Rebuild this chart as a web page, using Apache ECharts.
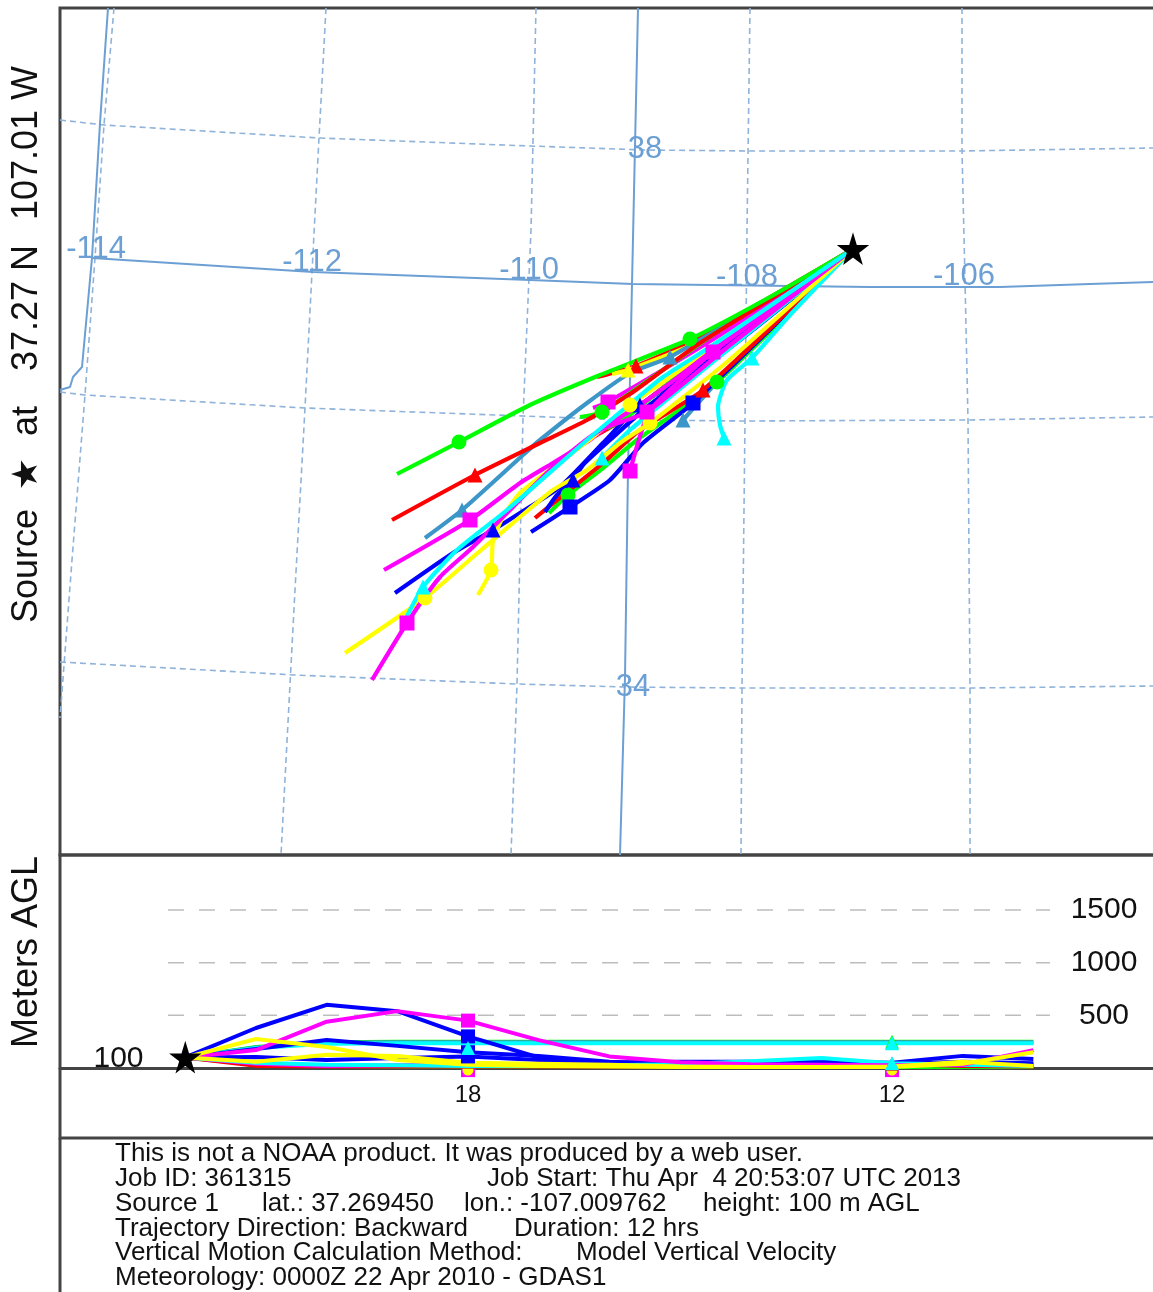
<!DOCTYPE html>
<html><head><meta charset="utf-8">
<style>html,body{margin:0;padding:0;background:#fff}#c{width:1153px;height:1292px}</style>
<script src="https://cdn.jsdelivr.net/npm/echarts@6/dist/echarts.min.js"></script>
</head><body><div id="c"></div>
<script>
// ---------- map reference lines (values read in plot units of the map panel)
const borderWest = [[108,8],[100,123],[92,258],[82,367],[73,377],[70,387],[60,390]];
const borderNorth = [[92,258],[313,272],[530,280],[633,284],[870,287],[1000,287],[1090,284],[1153,282]];
const borderCenter = [[638,8],[632,284],[628,470],[625,677],[620,855]];
const lon114 = [[114,8],[104,125],[95,258],[85,395],[72,560],[60,718]];
const lon112 = [[326,8],[319,138],[312,272],[305,408],[295,590],[281,855]];
const lon110 = [[536,8],[531,230],[523,418],[517,684],[511,855]];
const lon108 = [[750,8],[747,230],[745,421],[742,688],[741,855]];
const lon106 = [[962,8],[962,151],[965,280],[968,420],[970,688],[970,855]];
const lat38 = [[60,120],[104,125],[319,138],[530,146],[645,150],[750,151],[962,151],[1153,148]];
const lat36 = [[60,392],[85,395],[305,408],[523,416],[628,420],[745,421],[968,420],[1153,417]];
const lat34 = [[60,662],[295,675],[517,684],[625,687],[741,688],[970,688],[1153,686]];
const mapLabels = [[96,249,'-114'],[312,262,'-112'],[529,270,'-110'],[747,277,'-108'],[964,276,'-106'],[645,149,'38'],[633,687,'34']];

// ---------- trajectories on the map
const source = [853,249];
const redShort = [source,[700,337],[636,366],[597,377]];
const yellowShort = [source,[700,341],[628,370],[612,374]];
const greenA = [source,[770,297],[690,339],[600,375],[530,405],[459,442],[397,474]];
const steelA = [source,[670,357],[630,373],[587,403],[540,440],[523,455],[462,510],[425,538]];
const redA = [source,[700,343],[633,392],[587,420],[540,443],[475,475],[392,520]];
const steelB = [source,[760,335],[683,420]];
const redB = [source,[703,390],[640,430],[603,463],[557,500],[535,518]];
const redC = [source,[703,357],[617,423],[593,437]];
const greenC = [source,[710,350],[627,417],[607,428]];
const greenD = [source,[720,330],[602,412],[580,417]];
const magentaD = [source,[720,335],[608,402],[593,408]];
const blueA = [source,[727,350],[640,405],[603,443],[560,487],[520,513],[493,530],[453,553],[395,593]];
const magentaA = [source,[730,345],[647,412],[607,427],[590,440],[553,463],[520,483],[470,520],[384,570]];
const greenB = [source,[717,382],[637,440],[603,468],[568,495],[549,513]];
const blueB = [source,[693,403],[643,443],[610,480],[570,507],[531,532]];
const blueC = [source,[647,407],[610,440],[583,465],[573,480],[557,495],[545,512]];
const magentaB = [source,[713,352],[650,410],[638,443],[630,471]];
const cyanA = [source,[790,315],[752,358],[727,380],[718,407],[720,425],[724,438]];
const cyanB = [source,[710,347],[663,377],[630,404],[587,440],[507,510],[457,550],[423,587],[405,620]];
const cyanC = [source,[752,330],[630,430],[602,458]];
const magentaC = [source,[720,345],[650,398],[590,437],[553,467],[513,507],[473,547],[440,577],[407,623],[372,680]];
const yellowA = [source,[727,362],[650,423],[620,443],[587,470],[553,490],[520,517],[473,557],[425,598],[345,653]];
const yellowB = [source,[720,343],[630,405],[593,437],[563,460],[520,493],[503,517],[493,540],[491,570],[478,595]];

// ---------- height panel
const hours = [22,21,20,19,18,17,16,15,14,13,12,11,10];
const hGreen = [100,200,245,250,250,250,250,250,250,250,250,250,250];
const hSteel = [100,195,240,245,245,245,245,245,245,245,245,245,245];
const hCyan = [100,190,230,235,235,235,235,235,235,235,235,235,235];
const hBlueA = [100,380,600,540,300,100,40,35,40,40,35,30,30];
const hMagenta = [100,170,440,540,450,265,110,55,35,30,25,30,170];
const hBlueB = [100,180,265,210,150,115,60,40,50,60,50,115,85];
const hBlueC = [100,105,75,95,110,75,50,60,60,45,40,60,45];
const hYellowA = [100,275,200,75,30,20,15,10,10,10,10,40,150];
const hYellowB = [100,60,125,115,50,40,30,15,10,10,15,60,20];
const hMagentaB = [100,40,20,25,30,35,25,20,15,15,20,40,25];
const hRed = [100,20,15,15,15,15,15,15,25,35,40,20,15];
const hGreenB = [100,30,20,15,15,15,20,15,10,10,10,10,10];
const hCyanB = [100,50,30,25,20,20,25,35,65,95,45,30,20];
const gridLevels = [500,1000,1500];
const gridSpan = [22.245,9.765];
const groundMarkHours = [18,12];
const groundMarkHeight = -20;
const cyanMark18 = [[18,190]];

const GREEN='#00ff00',RED='#ff0000',BLUE='#0000ff',MAG='#ff00ff',CY='#00ffff',YEL='#ffff00',STEEL='#3c96c8';
const MAPC='#6c9fd3',GRIDC='#8fb3da';
const STAR='path://M50 0 L61 35 L98 35 L68 57 L79 91 L50 70 L21 91 L32 57 L2 35 L39 35Z';

// line, colour, marker shape, marker indices
const trajectories = [
 [steelB,STEEL,'triangle',[2]],[redShort,RED,'triangle',[2]],[yellowShort,YEL,'triangle',[2]],
 [steelA,STEEL,'triangle',[1,6]],[magentaD,MAG,'rect',[2]],[greenD,GREEN,'circle',[2]],[redA,RED,'triangle',[5]],
 [greenB,GREEN,'circle',[1,4]],[blueB,BLUE,'rect',[1,4]],[redB,RED,'triangle',[1]],[blueC,BLUE,'triangle',[4]],
 [greenA,GREEN,'circle',[2,5]],[blueA,BLUE,'triangle',[2,6]],[cyanA,CY,'triangle',[2,6]],
 [redC,RED,'triangle',[]],[greenC,GREEN,'circle',[]],
 [cyanC,CY,'triangle',[3]],[magentaB,MAG,'rect',[1,4]],[yellowA,YEL,'circle',[2,8]],[magentaA,MAG,'rect',[2,7]],
 [yellowB,YEL,'circle',[2,8]],[magentaC,MAG,'rect',[8]],[cyanB,CY,'triangle',[7]]
];
// line, colour, marker shape, hours with a marker
const profiles = [
 [hGreenB,GREEN,'circle',[]],[hRed,RED,'triangle',[12]],[hGreen,GREEN,'triangle',[12]],[hSteel,STEEL,'triangle',[]],
 [hMagentaB,MAG,'rect',[]],[hCyan,CY,'triangle',[12]],[hBlueC,BLUE,'rect',[18]],[hBlueB,BLUE,'rect',[18]],[hBlueA,BLUE,'rect',[18]],
 [hCyanB,CY,'triangle',[12]],[hMagenta,MAG,'rect',[18]],[hYellowB,YEL,'circle',[]],[hYellowA,YEL,'circle',[]]
];

const series=[];
const thin=(data,color,width,dash)=>series.push({type:'line',xAxisIndex:0,yAxisIndex:0,data,symbol:'none',silent:true,
  lineStyle:{color,width,type:dash?[6,4]:'solid'},z:1});
[lon114,lon112,lon110,lon108,lon106,lat38,lat36,lat34].forEach(l=>thin(l,GRIDC,1.6,true));
[borderWest,borderNorth,borderCenter].forEach(l=>thin(l,MAPC,2,false));
trajectories.forEach(([data,color,shape,marks])=>series.push({type:'line',xAxisIndex:0,yAxisIndex:0,data,smooth:0.2,
  showAllSymbol:true,symbol:shape,symbolSize:(v,p)=>marks.includes(p.dataIndex)?15:0,
  itemStyle:{color},lineStyle:{color,width:4.2},z:3}));
series.push({type:'scatter',xAxisIndex:0,yAxisIndex:0,data:[source],symbol:STAR,symbolSize:28,itemStyle:{color:'#000',opacity:1,borderColor:'#000',borderWidth:1.5},z:6});
gridLevels.forEach(v=>series.push({type:'line',xAxisIndex:1,yAxisIndex:1,symbol:'none',silent:true,
  data:gridSpan.map(h=>[h,v]),lineStyle:{color:'#bdbdbd',width:1.5,type:[16,15]},z:1}));
series.push({type:'scatter',xAxisIndex:1,yAxisIndex:1,data:groundMarkHours.map(h=>[h,groundMarkHeight]),symbol:'rect',symbolSize:14,itemStyle:{color:MAG,opacity:1},z:2});
series.push({type:'scatter',xAxisIndex:1,yAxisIndex:1,data:groundMarkHours.map(h=>[h,groundMarkHeight]),symbol:'circle',symbolSize:11,itemStyle:{color:YEL,opacity:1},z:2});
profiles.forEach(([vals,color,shape,marks])=>series.push({type:'line',xAxisIndex:1,yAxisIndex:1,
  data:hours.map((h,i)=>[h,vals[i]]),showAllSymbol:true,symbol:shape,
  symbolSize:(v)=>marks.includes(v[0])?14:0,
  itemStyle:{color},lineStyle:{color,width:4},z:3}));
series.push({type:'scatter',xAxisIndex:1,yAxisIndex:1,data:cyanMark18,symbol:'triangle',symbolSize:14,itemStyle:{color:CY,opacity:1},z:4});
series.push({type:'scatter',xAxisIndex:1,yAxisIndex:1,data:[[hours[0],100]],symbol:STAR,symbolSize:28,itemStyle:{color:'#000',opacity:1,borderColor:'#000',borderWidth:1.5},z:6,
  label:{show:true,position:'left',distance:27,formatter:'100',fontFamily:'Liberation Sans',fontSize:30,color:'#111',offset:[0,1]}});
series.push({type:'scatter',xAxisIndex:0,yAxisIndex:0,symbolSize:0,silent:true,z:2,itemStyle:{opacity:1},
  data:mapLabels.map(l=>({value:[l[0],l[1]],name:l[2]})),
  label:{show:true,position:'inside',formatter:'{b}',fontFamily:'Liberation Sans',fontSize:31,color:MAPC}});

const txt=(x,y,text)=>({type:'text',x,y,z:20,style:{text,font:'26px "Liberation Sans"',fill:'#111',verticalAlign:'middle',align:'left'}});
const vtxt=(x,y,text,size)=>({type:'text',x,y,rotation:Math.PI/2,z:20,style:{text,font:`${size}px "Liberation Sans","DejaVu Sans"`,fill:'#111',align:'center',verticalAlign:'middle'}});
const footerLines=[[115,1154,'This is not a NOAA product. It was produced by a web user.'],
 [115,1179,'Job ID: 361315'],[487,1179,'Job Start: Thu Apr  4 20:53:07 UTC 2013'],
 [115,1204,'Source 1'],[262,1204,'lat.: 37.269450'],[464,1204,'lon.: -107.009762'],[703,1204,'height: 100 m AGL'],
 [115,1229,'Trajectory Direction: Backward'],[514,1229,'Duration: 12 hrs'],
 [115,1253,'Vertical Motion Calculation Method:'],[576,1253,'Model Vertical Velocity'],
 [115,1278,'Meteorology: 0000Z 22 Apr 2010 - GDAS1']];
const sideWords=[[566,'Source'],[474,'★'],[421,'at'],[308,'37.27 N'],[143,'107.01 W']];
const graphic=[
 ...footerLines.map(l=>txt(l[0],l[1],l[2])),
 ...sideWords.map(w=>vtxt(27,w[0],w[1],36)),
 vtxt(27,952,'Meters AGL',36),
 {type:'line',z:20,shape:{x1:60,y1:1138,x2:60,y2:1292},style:{stroke:'#444',lineWidth:3}}
];

const chart=echarts.init(document.getElementById('c'),null,{renderer:'canvas'});
chart.setOption({animation:false,backgroundColor:'#fff',
 grid:[{left:60,top:8,width:1100,height:847,outerBoundsMode:'none',show:true,borderColor:'#444',borderWidth:3,backgroundColor:'#fff'},
       {left:60,top:855,width:1100,height:283,outerBoundsMode:'none',show:true,borderColor:'#444',borderWidth:3,backgroundColor:'rgba(0,0,0,0)'}],
 xAxis:[{gridIndex:0,type:'value',min:60,max:1160,show:false},
  {gridIndex:1,type:'value',inverse:true,min:8.208,max:23.773,splitLine:{show:false},
   axisLine:{show:true,onZero:true,lineStyle:{color:'#444',width:3}},axisTick:{show:false},
   axisLabel:{customValues:[18,12],inside:true,margin:31,fontFamily:'Liberation Sans',fontSize:24,color:'#111'}}],
 yAxis:[{gridIndex:0,type:'value',min:8,max:855,inverse:true,show:false},
  {gridIndex:1,type:'value',position:'right',min:-665,max:2023,splitLine:{show:false},axisLine:{show:false,onZero:false},axisTick:{show:false},
   axisLabel:{inside:true,customValues:gridLevels,margin:56,align:'center',formatter:v=>String(v),fontFamily:'Liberation Sans',fontSize:30,color:'#111'}}],
 series,graphic});
</script></body></html>
